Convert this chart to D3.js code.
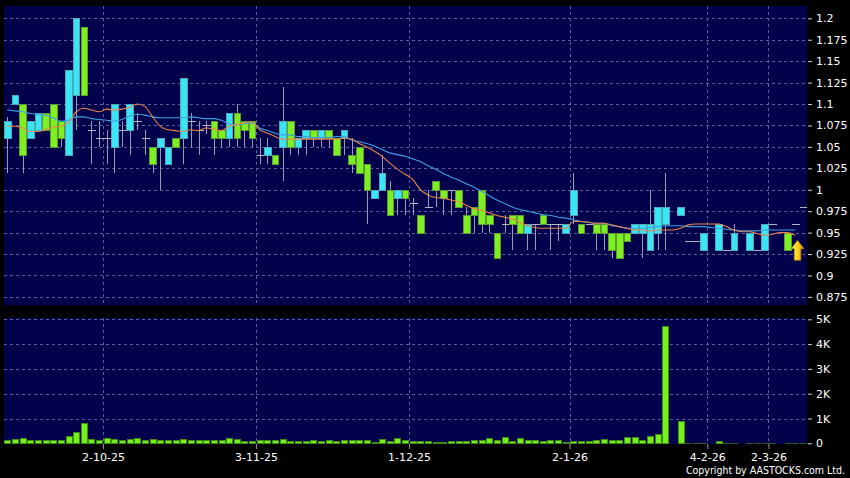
<!DOCTYPE html>
<html>
<head>
<meta charset="utf-8">
<script src="https://cdn.jsdelivr.net/npm/d3@7"></script>
<style>
  html, body { margin: 0; padding: 0; background: #000; }
  svg { display: block; }
  text { font-family: 'DejaVu Sans', Verdana, sans-serif; }
</style>
</head>
<body>
<div id="chart"></div>
<script>
// daily candles, one slot per trading day (null = no candle drawn)
const opens = [
  1.06, 1.10, 1.10, 1.06, 1.07, 1.09, 1.10, 1.08, 1.04, 1.11,
  1.19, 1.07, 1.06, 1.06, 1.05, 1.07, 1.07, 1.08, 1.06, 1.05,
  1.05, 1.03, 1.06, 1.06, 1.08, 1.07, 1.075, 1.08, 1.07, 1.06,
  1.09, 1.08, 1.08, 1.04, 1.04, 1.04, 1.05, 1.08, 1.05, 1.06,
  1.07, 1.06, 1.07, 1.06, 1.06, 1.04, 1.05, 1.03, 0.99, 1.00,
  1.00, 0.99, 1.00, 0.985, 0.97, 0.98, 1.01, 1.00, 1.00, 1.00,
  0.97, 0.98, 1.00, 0.97, 0.95, 0.96, 0.97, 0.97, 0.95, 0.96,
  0.97, 0.96, 0.96, 0.95, 0.97, 0.96, 0.96, 0.96, 0.96, 0.95,
  0.95, 0.95, 0.95, 0.95, 0.93, 0.95, 0.96, null, 0.97, 0.94,
  0.94, 0.93, null, 0.93, 0.93, 0.93, null, 0.93, 0.93, 0.93,
  0.96, null, 0.95, 0.96, 0.98
];
const highs = [
  1.085, 1.11, 1.10, 1.08, 1.09, 1.09, 1.10, 1.08, 1.14, 1.20,
  1.19, 1.08, 1.08, 1.07, 1.10, 1.08, 1.10, 1.09, 1.07, 1.05,
  1.06, 1.05, 1.06, 1.13, 1.09, 1.08, 1.08, 1.08, 1.07, 1.09,
  1.10, 1.08, 1.08, 1.06, 1.06, 1.04, 1.12, 1.08, 1.06, 1.07,
  1.07, 1.07, 1.07, 1.06, 1.07, 1.06, 1.05, 1.03, 1.00, 1.04,
  1.01, 1.00, 1.00, 0.99, 0.97, 1.00, 1.01, 1.00, 1.00, 1.00,
  0.98, 0.98, 1.00, 0.97, 0.95, 0.97, 0.97, 0.97, 0.96, 0.96,
  0.97, 0.96, 0.96, 0.96, 1.02, 0.96, 0.96, 0.96, 0.96, 0.95,
  0.95, 0.95, 0.96, 0.96, 1.00, 0.98, 1.02, null, 0.98, 0.94,
  0.94, 0.95, null, 0.96, 0.93, 0.96, null, 0.95, 0.93, 0.96,
  0.96, null, 0.95, 0.96, 0.98
];
const lows = [
  1.02, 1.10, 1.02, 1.06, 1.07, 1.07, 1.05, 1.05, 1.04, 1.07,
  1.11, 1.03, 1.05, 1.03, 1.02, 1.05, 1.04, 1.07, 1.04, 1.02,
  1.00, 1.03, 1.05, 1.03, 1.05, 1.04, 1.065, 1.04, 1.05, 1.05,
  1.05, 1.05, 1.05, 1.03, 1.03, 1.03, 1.01, 1.04, 1.04, 1.04,
  1.05, 1.05, 1.05, 1.04, 1.04, 1.02, 1.02, 0.96, 0.99, 1.00,
  0.97, 0.97, 0.97, 0.97, 0.95, 0.98, 0.98, 0.97, 0.97, 0.98,
  0.95, 0.95, 0.95, 0.95, 0.92, 0.95, 0.93, 0.95, 0.93, 0.93,
  0.96, 0.93, 0.94, 0.95, 0.96, 0.95, 0.96, 0.93, 0.93, 0.92,
  0.92, 0.94, 0.95, 0.92, 0.93, 0.93, 0.93, null, 0.97, 0.94,
  0.94, 0.93, null, 0.93, 0.93, 0.93, null, 0.93, 0.93, 0.93,
  0.96, null, 0.93, 0.96, 0.98
];
const closes = [
  1.08, 1.11, 1.04, 1.08, 1.09, 1.07, 1.05, 1.06, 1.14, 1.20,
  1.11, 1.07, 1.06, 1.06, 1.10, 1.07, 1.10, 1.08, 1.06, 1.03,
  1.06, 1.05, 1.05, 1.13, 1.08, 1.07, 1.075, 1.06, 1.06, 1.09,
  1.06, 1.07, 1.06, 1.04, 1.05, 1.03, 1.08, 1.05, 1.06, 1.07,
  1.06, 1.07, 1.06, 1.04, 1.07, 1.03, 1.02, 1.00, 1.00, 1.02,
  0.97, 1.00, 0.99, 0.985, 0.95, 0.98, 1.00, 0.99, 1.00, 0.98,
  0.95, 0.97, 0.96, 0.96, 0.92, 0.96, 0.96, 0.95, 0.96, 0.96,
  0.96, 0.96, 0.96, 0.96, 1.00, 0.95, 0.96, 0.95, 0.95, 0.93,
  0.92, 0.94, 0.96, 0.96, 0.96, 0.98, 0.98, null, 0.98, 0.94,
  0.94, 0.95, null, 0.96, 0.93, 0.95, null, 0.95, 0.93, 0.96,
  0.96, null, 0.93, 0.96, 0.98
];
const volumes = [
  130, 175, 200, 135, 135, 120, 120, 120, 310, 445,
  806, 190, 135, 230, 175, 135, 190, 200, 135, 175,
  135, 135, 135, 175, 135, 135, 135, 135, 135, 200,
  160, 110, 110, 120, 120, 120, 190, 110, 110, 110,
  120, 110, 120, 110, 120, 150, 150, 150, 70, 160,
  110, 200, 120, 110, 110, 80, 70, 70, 80, 95,
  110, 135, 150, 215, 120, 240, 95, 215, 150, 120,
  110, 120, 120, 70, 110, 110, 110, 150, 160, 135,
  135, 260, 260, 115, 310, 390, 4750, 0, 890, 8,
  5, 10, 0, 90, 5, 25, 0, 25, 5, 20,
  5, 0, 20, 5, 5
];
// moving averages
const maShort = [
  1.074, 1.074, 1.072, 1.068, 1.068, 1.070, 1.073, 1.074, 1.078, 1.091,
  1.095, 1.093, 1.091, 1.094, 1.093, 1.094, 1.096, 1.100, 1.097, 1.085,
  1.074, 1.070, 1.069, 1.068, 1.070, 1.069, 1.072, 1.071, 1.069, 1.074,
  1.076, 1.078, 1.079, 1.070, 1.066, 1.062, 1.059, 1.059, 1.059, 1.059,
  1.059, 1.059, 1.059, 1.059, 1.060, 1.059, 1.054, 1.050, 1.045, 1.039,
  1.031, 1.024, 1.018, 1.012, 1.000, 0.994, 0.991, 0.990, 0.988, 0.986,
  0.982, 0.978, 0.976, 0.973, 0.970, 0.968, 0.966, 0.962, 0.958, 0.956,
  0.955, 0.955, 0.955, 0.955, 0.963, 0.963, 0.962, 0.961, 0.961, 0.959,
  0.957, 0.955, 0.953, 0.953, 0.952, 0.953, 0.953, 0.953, 0.955, 0.959,
  0.960, 0.960, 0.960, 0.960, 0.957, 0.953, 0.951, 0.951, 0.949, 0.947,
  0.948, 0.950, 0.950, 0.947, null
];
const maLong = [
  1.093, 1.092, 1.091, 1.089, 1.088, 1.087, 1.084, 1.080, 1.081, 1.085,
  1.085, 1.083, 1.082, 1.081, 1.080, 1.082, 1.086, 1.088, 1.087, 1.085,
  1.084, 1.084, 1.084, 1.084, 1.085, 1.084, 1.083, 1.083, 1.081, 1.077,
  1.076, 1.077, 1.078, 1.072, 1.069, 1.066, 1.064, 1.064, 1.062, 1.062,
  1.061, 1.061, 1.061, 1.062, 1.062, 1.058, 1.056, 1.054, 1.051, 1.047,
  1.043, 1.041, 1.039, 1.036, 1.033, 1.028, 1.024, 1.019, 1.015, 1.011,
  1.007, 1.003, 0.998, 0.993, 0.988, 0.984, 0.980, 0.977, 0.975, 0.973,
  0.971, 0.970, 0.968, 0.967, 0.965, 0.963, 0.962, 0.961, 0.961, 0.958,
  0.957, 0.955, 0.955, 0.955, 0.956, 0.957, 0.958, 0.958, 0.958, 0.957,
  0.957, 0.957, 0.956, 0.955, 0.954, 0.953, 0.952, 0.952, 0.952, 0.953,
  0.953, 0.953, 0.953, 0.953, null
];
const priceTicks = [0.875, 0.9, 0.925, 0.95, 0.975, 1, 1.025, 1.05, 1.075, 1.1, 1.125, 1.15, 1.175, 1.2];
const volumeTicks = [0, 1000, 2000, 3000, 4000, 5000];
const volumeTickLabels = ['0', '1K', '2K', '3K', '4K', '5K'];
const dateTickSlots = [12.5, 32.5, 52.5, 73.5, 91.5, 99.5];
const dateTickLabels = ['2-10-25', '3-11-25', '1-12-25', '2-1-26', '4-2-26', '2-3-26'];

const cfg = {
  width: 850, height: 478,
  left: 4, right: 807,
  priceTop: 6, priceBottom: 305,
  volTop: 318, volBottom: 444,
  panelFill: '#02024c',
  grid: '#5c5c98',
  upFill: '#3ae6f6', upStroke: '#4aa8b8',
  downFill: '#7ef022', downStroke: '#5e9a36',
  wick: '#9c9cb0',
  volFill: '#74f01a', volStroke: '#3e8a14',
  maShortColor: '#e8844c', maLongColor: '#3c9ee0',
  bodyWidth: 6.6
};

const svg = d3.select('#chart').append('svg')
  .attr('width', cfg.width)
  .attr('height', cfg.height)
  .style('background', '#000');

const x = d3.scaleLinear().domain([0, 104]).range([7.3, 802.9]);
const yPrice = d3.scaleLinear().domain([0.875, 1.2]).range([296.9, 18.3]);
const yVol = d3.scaleLinear().domain([0, 5000]).range([443.3, 319.3]);

const defs = svg.append('defs');
defs.append('clipPath').attr('id', 'clipPrice').append('rect')
  .attr('x', cfg.left).attr('y', cfg.priceTop)
  .attr('width', cfg.right - cfg.left).attr('height', cfg.priceBottom - cfg.priceTop);
defs.append('clipPath').attr('id', 'clipVol').append('rect')
  .attr('x', cfg.left).attr('y', cfg.volTop)
  .attr('width', cfg.right - cfg.left).attr('height', cfg.volBottom - cfg.volTop);
const grad = defs.append('linearGradient').attr('id', 'gold')
  .attr('x1', '0').attr('x2', '1').attr('y1', '0').attr('y2', '0');
grad.append('stop').attr('offset', '0').attr('stop-color', '#fff27a');
grad.append('stop').attr('offset', '0.5').attr('stop-color', '#ffd21e');
grad.append('stop').attr('offset', '1').attr('stop-color', '#d89200');

// panels
[[cfg.priceTop, cfg.priceBottom], [cfg.volTop, cfg.volBottom]].forEach(([t, b]) => {
  svg.append('rect')
    .attr('x', cfg.left).attr('y', t)
    .attr('width', cfg.right - cfg.left).attr('height', b - t)
    .attr('fill', cfg.panelFill);
});

// grid
const gridG = svg.append('g')
  .attr('stroke', cfg.grid).attr('stroke-dasharray', '3,3')
  .attr('shape-rendering', 'crispEdges');
gridG.selectAll('.hp').data(priceTicks).enter().append('line')
  .attr('x1', cfg.left).attr('x2', cfg.right)
  .attr('y1', d => Math.round(yPrice(d)) + 0.5).attr('y2', d => Math.round(yPrice(d)) + 0.5);
gridG.selectAll('.hv').data(volumeTicks.slice(1)).enter().append('line')
  .attr('x1', cfg.left).attr('x2', cfg.right)
  .attr('y1', d => Math.round(yVol(d)) + 0.5).attr('y2', d => Math.round(yVol(d)) + 0.5);
dateTickSlots.forEach(s => {
  const xx = Math.round(x(s)) + 0.5;
  gridG.append('line').attr('x1', xx).attr('x2', xx).attr('y1', cfg.priceTop).attr('y2', cfg.priceBottom);
  gridG.append('line').attr('x1', xx).attr('x2', xx).attr('y1', cfg.volTop).attr('y2', cfg.volBottom);
});

// candles
const candles = opens.map((o, i) => ({
  i, o, h: highs[i], l: lows[i], c: closes[i]
})).filter(d => d.o !== null);

const priceG = svg.append('g').attr('clip-path', 'url(#clipPrice)');

priceG.selectAll('.wick').data(candles).enter().append('line')
  .attr('x1', d => Math.round(x(d.i)) + 0.5).attr('x2', d => Math.round(x(d.i)) + 0.5)
  .attr('y1', d => yPrice(d.h)).attr('y2', d => yPrice(d.l))
  .attr('stroke', cfg.wick).attr('stroke-width', 1)
  .attr('shape-rendering', 'crispEdges');

priceG.selectAll('.doji').data(candles.filter(d => d.o === d.c)).enter().append('line')
  .attr('x1', d => Math.round(x(d.i)) - 3.5).attr('x2', d => Math.round(x(d.i)) + 4.5)
  .attr('y1', d => Math.round(yPrice(d.o)) + 0.5).attr('y2', d => Math.round(yPrice(d.o)) + 0.5)
  .attr('stroke', '#b4b4c4').attr('stroke-width', 1)
  .attr('shape-rendering', 'crispEdges');

priceG.selectAll('.body').data(candles.filter(d => d.o !== d.c)).enter().append('rect')
  .attr('x', d => x(d.i) - cfg.bodyWidth / 2 + 0.5)
  .attr('width', cfg.bodyWidth)
  .attr('y', d => Math.round(yPrice(Math.max(d.o, d.c))) + 0.5)
  .attr('height', d => Math.max(1, Math.round(yPrice(Math.min(d.o, d.c))) - Math.round(yPrice(Math.max(d.o, d.c)))))
  .attr('fill', d => d.c > d.o ? cfg.upFill : cfg.downFill)
  .attr('stroke', d => d.c > d.o ? cfg.upStroke : cfg.downStroke)
  .attr('stroke-width', 1)
  .attr('shape-rendering', 'crispEdges');

// moving averages
const maLine = d3.line()
  .defined(d => d.v !== null)
  .x(d => x(d.i))
  .y(d => yPrice(d.v))
  .curve(d3.curveMonotoneX);
[[maLong, cfg.maLongColor], [maShort, cfg.maShortColor]].forEach(([arr, col]) => {
  priceG.append('path')
    .datum(arr.map((v, i) => ({ i, v })))
    .attr('d', maLine)
    .attr('fill', 'none')
    .attr('stroke', col)
    .attr('stroke-width', 1.1);
});

// last-price marker
const marker = { slot: 103.3, price: 0.941 };
priceG.append('path')
  .attr('transform', `translate(${x(marker.slot)},${yPrice(marker.price)})`)
  .attr('d', 'M0,0 L6.5,8.5 L3.3,8.5 L3.3,20 L-3.3,20 L-3.3,8.5 L-6.5,8.5 Z')
  .attr('fill', 'url(#gold)')
  .attr('stroke', '#b07800')
  .attr('stroke-width', 0.6);

// volume
const volG = svg.append('g').attr('clip-path', 'url(#clipVol)');
volG.selectAll('.vol').data(volumes.map((v, i) => ({ i, v })).filter(d => d.v > 0)).enter().append('rect')
  .attr('x', d => x(d.i) - 3 + 0.5)
  .attr('width', 6)
  .attr('y', d => Math.round(yVol(d.v)) + 0.5)
  .attr('height', d => Math.max(0.5, Math.round(yVol(0)) - Math.round(yVol(d.v))))
  .attr('fill', d => d.v < 40 ? '#2c5a2c' : cfg.volFill)
  .attr('stroke', d => d.v < 40 ? '#2c5a2c' : cfg.volStroke)
  .attr('stroke-width', 1)
  .attr('shape-rendering', 'crispEdges');

// axes
function styleAxis(g) {
  g.select('.domain').remove();
  g.selectAll('line').attr('stroke', '#d0d0d0');
  g.selectAll('text').attr('fill', '#ffffff')
    .style('font-family', "'DejaVu Sans', Verdana, sans-serif")
    .style('font-size', '11px');
}

svg.append('g')
  .attr('transform', `translate(${cfg.right + 1},0)`)
  .call(d3.axisRight(yPrice).tickValues(priceTicks).tickFormat(d3.format('~g'))
    .tickSize(4).tickPadding(4))
  .call(styleAxis);

svg.append('g')
  .attr('transform', `translate(${cfg.right + 1},0)`)
  .call(d3.axisRight(yVol).tickValues(volumeTicks).tickFormat((d, i) => volumeTickLabels[i])
    .tickSize(4).tickPadding(4))
  .call(styleAxis);

svg.append('g')
  .attr('transform', `translate(0,${cfg.volBottom})`)
  .call(d3.axisBottom(x).tickValues(dateTickSlots).tickFormat((d, i) => dateTickLabels[i])
    .tickSize(5).tickPadding(4))
  .call(styleAxis)
  .call(g => g.selectAll('line').attr('stroke', '#999'));

svg.append('text')
  .attr('x', 845).attr('y', 474)
  .attr('text-anchor', 'end')
  .attr('fill', '#ffffff')
  .attr('textLength', 159)
  .attr('lengthAdjust', 'spacingAndGlyphs')
  .style('font-family', "'DejaVu Sans Condensed', 'DejaVu Sans', sans-serif")
  .style('font-size', '10px')
  .text('Copyright by AASTOCKS.com Ltd.');
</script>
</body>
</html>
